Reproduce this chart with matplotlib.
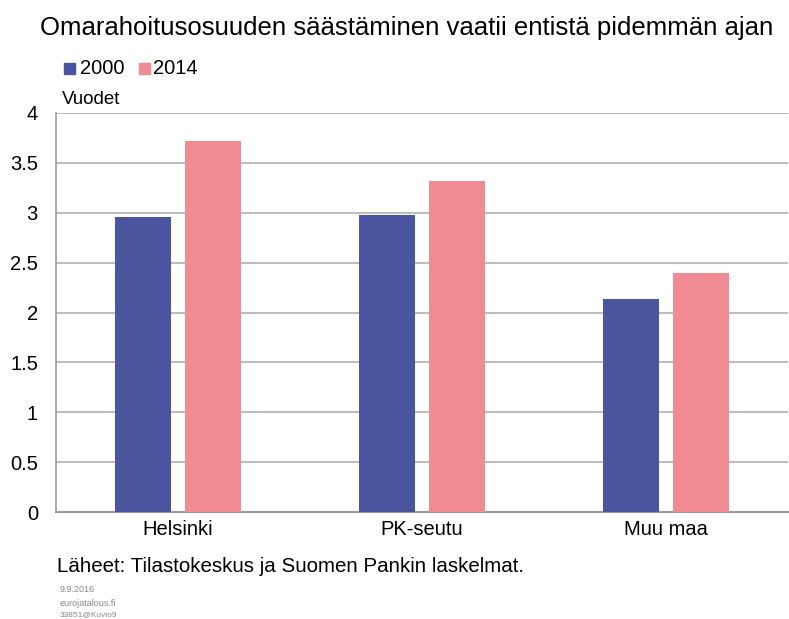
import matplotlib
matplotlib.use("Agg")
import matplotlib.pyplot as plt
import numpy as np

categories = ["Helsinki", "PK-seutu", "Muu maa"]
series_names = ["2000", "2014"]
values_2000 = [2.96, 2.98, 2.14]
values_2014 = [3.72, 3.32, 2.40]
yticks = [0, 0.5, 1, 1.5, 2, 2.5, 3, 3.5, 4]
ytick_labels = ["0", "0.5", "1", "1.5", "2", "2.5", "3", "3.5", "4"]

c_blue = "#4B559F"
c_pink = "#F08A93"

plt.rcParams["font.family"] = ["Liberation Sans", "DejaVu Sans"]

W, H = 789, 619
fig = plt.figure(figsize=(W/100, H/100), dpi=100)
ax = fig.add_axes([56/W, 1 - 512/H, (788-56)/W, (512-113)/H])

x = np.arange(len(categories))
bw = 0.228
off = 0.143
ax.bar(x - off, values_2000, bw, color=c_blue, zorder=3)
ax.bar(x + off, values_2014, bw, color=c_pink, zorder=3)

ax.set_xlim(-0.5, 2.5)
ax.set_ylim(0, 4)
ax.set_yticks(yticks)
ax.set_yticklabels(ytick_labels, fontsize=14.5)
ax.set_xticks(x)
ax.set_xticklabels(categories, fontsize=14.5)
ax.tick_params(axis="both", length=0)
ax.tick_params(axis="y", pad=13)
ax.tick_params(axis="x", pad=6)
ax.grid(axis="y", color="#BDBDBD", linewidth=1.5, zorder=0)
for s in ["top", "right"]:
    ax.spines[s].set_visible(False)
ax.spines["left"].set_color("#9E9E9E")
ax.spines["bottom"].set_color("#9E9E9E")
ax.spines["left"].set_linewidth(1.2)
ax.spines["bottom"].set_linewidth(1.5)

fig.text(40/W, 1 - 28/H, "Omarahoitusosuuden säästäminen vaatii entistä pidemmän ajan",
         fontsize=18.5, ha="left", va="center")
# legend
fig.patches.append(plt.Rectangle((64/W, 1 - 74/H), 11/W, 11/H, color=c_blue, transform=fig.transFigure))
fig.text(80/W, 1 - 68/H, series_names[0], fontsize=14.5, ha="left", va="center")
fig.patches.append(plt.Rectangle((139/W, 1 - 74/H), 11/W, 11/H, color=c_pink, transform=fig.transFigure))
fig.text(153/W, 1 - 68/H, series_names[1], fontsize=14.5, ha="left", va="center")

fig.text(62/W, 1 - 100/H, "Vuodet", fontsize=13.5, ha="left", va="center")
fig.text(57/W, 1 - 567/H, "Läheet: Tilastokeskus ja Suomen Pankin laskelmat.",
         fontsize=14.8, ha="left", va="center")
fig.text(60/W, 1 - 590/H, "9.9.2016", fontsize=6.5, color="#888888", ha="left", va="center")
fig.text(60/W, 1 - 603/H, "eurojatalous.fi", fontsize=6.5, color="#888888", ha="left", va="center")
fig.text(60/W, 1 - 615/H, "33851@Kuvio9", fontsize=6, color="#888888", ha="left", va="center")

fig.savefig("out.png", dpi=100)
